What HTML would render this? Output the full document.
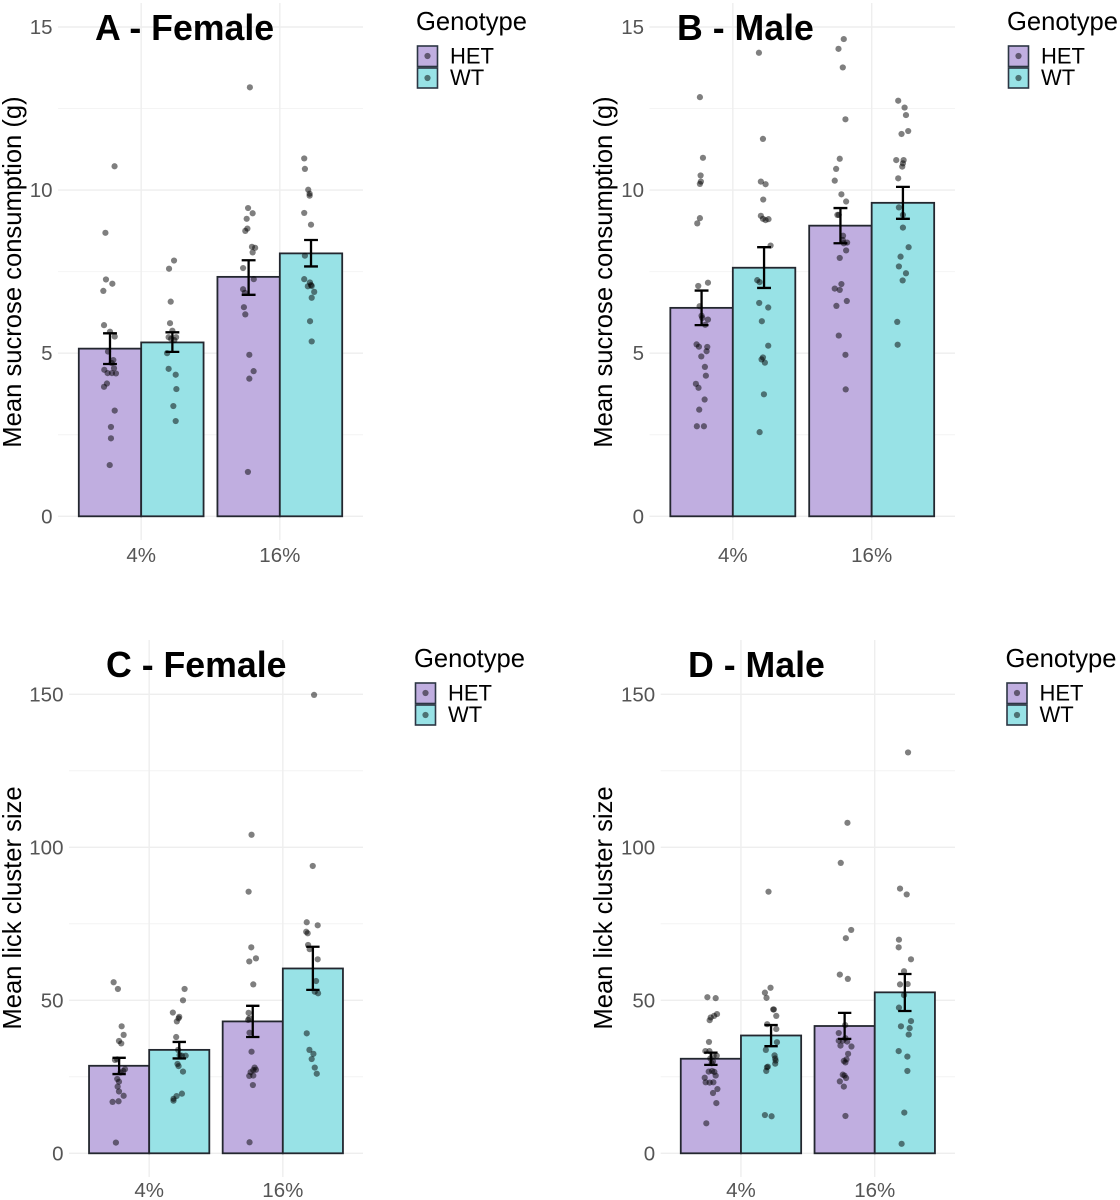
<!DOCTYPE html>
<html lang="en">
<head>
<meta charset="utf-8">
<title>Sucrose consumption and lick cluster size by genotype</title>
<style>
html,body{margin:0;padding:0;background:#fff;width:1120px;height:1200px;overflow:hidden}
svg{display:block;filter:blur(0.3px)}
text{font-family:"Liberation Sans",Arial,sans-serif}
.ptitle{font-size:35.7px;font-weight:700;fill:#000}
.atitle{font-size:25.6px;fill:#000;text-anchor:middle}
.ltitle{font-size:25.6px;fill:#000}
.ltext{font-size:22px;fill:#000}
</style>
</head>
<body>
<svg id="figure" xmlns="http://www.w3.org/2000/svg" width="1120" height="1200" viewBox="0 0 1120 1200">
  <rect width="1120" height="1200" fill="#fff"/>
  <g id="panel-a"></g>
  <g id="panel-b"></g>
  <g id="panel-c"></g>
  <g id="panel-d"></g>

  <text class="ptitle" x="95" y="40">A - Female</text>
  <text class="ptitle" x="677" y="40">B - Male</text>
  <text class="ptitle" x="106" y="677">C - Female</text>
  <text class="ptitle" x="688" y="677">D - Male</text>

  <text class="atitle" transform="translate(21,272) rotate(-90)">Mean sucrose consumption (g)</text>
  <text class="atitle" transform="translate(612,272) rotate(-90)">Mean sucrose consumption (g)</text>
  <text class="atitle" transform="translate(21,908) rotate(-90)">Mean lick cluster size</text>
  <text class="atitle" transform="translate(612,908) rotate(-90)">Mean lick cluster size</text>

  <g transform="translate(416,0)">
    <text class="ltitle" x="0" y="30">Genotype</text>
    <g>
      <rect x="1.5" y="46" width="20" height="20.5" fill="#c0aee0" stroke="#2c3644" stroke-width="1.6"/>
      <circle cx="11.5" cy="56" r="3.1" fill="#000" fill-opacity=".5"/>
      <text class="ltext" x="34" y="63.5">HET</text>
    </g>
    <g>
      <rect x="1.5" y="68" width="20" height="20" fill="#98e2e6" stroke="#2c3644" stroke-width="1.6"/>
      <circle cx="11.5" cy="78" r="3.1" fill="#000" fill-opacity=".5"/>
      <text class="ltext" x="34" y="85">WT</text>
    </g>
  </g>
  <g transform="translate(1007,0)">
    <text class="ltitle" x="0" y="30">Genotype</text>
    <g>
      <rect x="1.5" y="46" width="20" height="20.5" fill="#c0aee0" stroke="#2c3644" stroke-width="1.6"/>
      <circle cx="11.5" cy="56" r="3.1" fill="#000" fill-opacity=".5"/>
      <text class="ltext" x="34" y="63.5">HET</text>
    </g>
    <g>
      <rect x="1.5" y="68" width="20" height="20" fill="#98e2e6" stroke="#2c3644" stroke-width="1.6"/>
      <circle cx="11.5" cy="78" r="3.1" fill="#000" fill-opacity=".5"/>
      <text class="ltext" x="34" y="85">WT</text>
    </g>
  </g>
  <g transform="translate(414,637)">
    <text class="ltitle" x="0" y="30">Genotype</text>
    <g>
      <rect x="1.5" y="46" width="20" height="20.5" fill="#c0aee0" stroke="#2c3644" stroke-width="1.6"/>
      <circle cx="11.5" cy="56" r="3.1" fill="#000" fill-opacity=".5"/>
      <text class="ltext" x="34" y="63.5">HET</text>
    </g>
    <g>
      <rect x="1.5" y="68" width="20" height="20" fill="#98e2e6" stroke="#2c3644" stroke-width="1.6"/>
      <circle cx="11.5" cy="78" r="3.1" fill="#000" fill-opacity=".5"/>
      <text class="ltext" x="34" y="85">WT</text>
    </g>
  </g>
  <g transform="translate(1005.5,637)">
    <text class="ltitle" x="0" y="30">Genotype</text>
    <g>
      <rect x="1.5" y="46" width="20" height="20.5" fill="#c0aee0" stroke="#2c3644" stroke-width="1.6"/>
      <circle cx="11.5" cy="56" r="3.1" fill="#000" fill-opacity=".5"/>
      <text class="ltext" x="34" y="63.5">HET</text>
    </g>
    <g>
      <rect x="1.5" y="68" width="20" height="20" fill="#98e2e6" stroke="#2c3644" stroke-width="1.6"/>
      <circle cx="11.5" cy="78" r="3.1" fill="#000" fill-opacity=".5"/>
      <text class="ltext" x="34" y="85">WT</text>
    </g>
  </g>
</svg>

<script>
// ---- shared categories and tick labels ----
const categories = ['4%', '16%'];
const genotypes = ['HET', 'WT'];
const sucroseTicks = [0, 5, 10, 15];
const lickTicks = [0, 50, 100, 150];

// ---- panel A: bar means and error limits, order HET 4%, WT 4%, HET 16%, WT 16% ----
const aMeans = [5.14, 5.33, 7.34, 8.06];
const aErrLow = [4.67, 5.04, 6.79, 7.66];
const aErrHigh = [5.61, 5.64, 7.85, 8.47];
// points: value, and horizontal jitter as percent of a category band
const aHet4 = [10.73, 8.69, 7.26, 7.13, 6.91, 5.86, 5.66, 5.51, 5.05, 4.79, 4.70, 4.54, 4.49, 4.39, 4.39, 4.38, 4.07, 3.97, 3.24, 2.74, 2.39, 1.57];
const aHet4Jit = [3.3, -3.3, -2.9, 1.7, -4.8, -4.3, 0, 3.4, -1.4, 2.4, 1.2, 2.9, -4.1, -1.7, 1.4, 4.3, -2.2, -4.3, 3.4, 0.7, 0.7, -0.2];
const aWt4 = [7.84, 7.59, 6.58, 5.92, 5.69, 5.49, 5.49, 5.44, 5.40, 5.0, 4.52, 4.34, 3.90, 3.38, 2.92];
const aWt4Jit = [1.2, -2.4, -1.2, -1.7, 0, -2.7, 2.7, -0.9, 1.4, -3.8, -2.7, 2.4, 2.9, 0.7, 2.4];
const aHet16 = [13.15, 9.45, 9.29, 9.12, 8.82, 8.75, 8.26, 8.23, 8.09, 7.61, 7.27, 6.96, 6.85, 6.41, 6.19, 4.95, 4.45, 4.22, 1.36];
const aHet16Jit = [0.9, -0.4, 2.9, -1.4, -0.9, -2.4, 2.4, 4.7, 2.9, -4, 3.7, -4, -2.7, -3.4, -2.4, 0.5, 3.6, 0.5, -0.5];
const aWt16 = [10.97, 10.65, 10.01, 9.89, 9.83, 9.30, 8.94, 7.99, 7.27, 7.17, 7.09, 7.05, 7.06, 6.88, 6.70, 5.98, 5.36];
const aWt16Jit = [-4.9, -4.4, -2, -1, -1, -4.9, 0, -4.4, -4.9, -0.8, 0, -2.3, 0.5, 2.3, 0.5, -0.7, 0.5];

// ---- panel B ----
const bMeans = [6.39, 7.62, 8.91, 9.61];
const bErrLow = [5.86, 7.0, 8.37, 9.12];
const bErrHigh = [6.92, 8.25, 9.45, 10.10];
const bHet4 = [12.85, 10.99, 10.45, 10.26, 10.19, 9.14, 8.98, 7.16, 7.06, 6.44, 6.15, 6.08, 6.03, 5.87, 5.27, 5.20, 5.19, 5.06, 4.90, 4.58, 4.31, 4.06, 3.94, 3.58, 3.27, 2.76, 2.76];
const bHet4Jit = [-1.2, 1, -0.7, -0.5, -1.2, -1.2, -3.1, 4.6, -2.4, -1.4, 0, 0.5, 4.6, 2.6, -3.6, -1.9, 4.1, 3.6, -0.2, 2.4, 3.1, -4.1, -2.2, 2.2, -1.7, -3.4, 1.7];
const bWt4 = [14.21, 11.57, 10.26, 10.18, 9.71, 9.21, 9.12, 9.08, 9.11, 8.30, 7.24, 7.18, 6.54, 6.40, 5.98, 5.23, 4.87, 4.81, 4.71, 3.74, 2.58];
const bWt4Jit = [-3.7, -0.8, -2.3, 1.1, -0.6, -2.3, -0.8, 1.1, 3.2, 4.7, -4.9, -3.2, -3.5, 3, -1.6, 3, -0.8, -1.8, 0.6, -0.1, -3.2];
const bHet16 = [14.63, 14.33, 13.76, 12.17, 10.96, 10.65, 10.29, 9.87, 9.65, 9.24, 9.24, 8.60, 8.47, 8.39, 8.37, 8.15, 7.92, 7.12, 6.98, 6.94, 6.60, 6.45, 5.54, 4.95, 3.89];
const bHet16Jit = [2.4, -1.4, 1.7, 3.6, -0.5, -3.1, -4.1, 0.7, 4.1, -2.2, -1.2, 1.9, 1.7, 4.8, 2.4, 4.1, -0.5, 0.7, -4.1, -0.5, 4.6, -2.9, -1.2, 3.6, 3.8];
const bWt16 = [12.74, 12.53, 12.30, 11.81, 11.72, 10.92, 10.92, 10.82, 10.72, 10.36, 9.47, 9.24, 8.85, 8.25, 7.96, 7.66, 7.45, 7.23, 5.96, 5.26];
const bWt16Jit = [-3.4, 1.2, 2.2, 3.8, -1, -4.8, 0.5, 0, -0.5, -3.4, -2.9, 0, 0, 4.1, -1.7, -2.9, 2.2, -0.2, -4.1, -3.8];

// ---- panel C ----
const cMeans = [28.6, 33.8, 43.1, 60.4];
const cErrLow = [25.9, 31.0, 38.0, 53.4];
const cErrHigh = [31.2, 36.4, 48.2, 67.5];
const cHet4 = [55.9, 53.7, 41.5, 38.7, 36.7, 35.9, 30.5, 30.7, 27.5, 26.9, 26.4, 24.3, 23.4, 21.8, 20.2, 18.8, 16.8, 17.0, 3.5];
const cHet4Jit = [-4.1, -0.9, 1.9, 3.4, -0.1, 1.6, -3.1, -1.4, 4.4, 3.1, 1.1, -1.4, -0.1, -1.1, -0.1, 3.4, -4.9, -0.4, -2.4];
const cWt4 = [53.7, 50, 46, 44.6, 44.1, 43.1, 38, 33.8, 32.1, 31.9, 31.9, 29.2, 28.5, 26.7, 19.5, 18.7, 17.8, 17.2];
const cWt4Jit = [4, 2.8, -4.8, 0, -0.5, -1.8, -2.3, -0.8, 0.3, 2, 4.8, -1.3, -0.5, 2.8, 2, -2, -4.3, -4.3];
const cHet16 = [104.1, 85.5, 67.3, 62.7, 63.7, 55.2, 45.9, 44.1, 43.6, 39.4, 33.2, 28, 27.2, 27.3, 26.5, 25.3, 25.4, 22.3, 3.6];
const cHet16Jit = [-0.9, -3.1, -1.1, -2.6, 2.4, 0.4, -3.1, -2.6, -3.4, -2.4, -0.9, 1.4, 0.4, 2.4, -1.6, -2.6, 0.4, 0.1, -2.4];
const cWt16 = [149.8, 93.9, 75.5, 74.5, 72.4, 71.9, 68.1, 66.7, 63.4, 56.3, 52.8, 52.3, 39.2, 33.8, 32.5, 30.8, 28, 26];
const cWt16Jit = [0.9, -0.1, -4.6, 3.6, -5, -3.9, -3.6, -2.4, 3.6, 2.4, 1.4, 3.9, -4.6, -2.6, 0.4, -0.9, 1.4, 2.9];

// ---- panel D ----
const dMeans = [30.9, 38.5, 41.6, 52.6];
const dErrLow = [28.9, 35.0, 37.4, 46.5];
const dErrHigh = [32.9, 41.9, 45.9, 58.6];
const dHet4 = [51, 50.7, 45.5, 44.9, 44.4, 43.5, 36.4, 33.4, 33.4, 31.9, 31.9, 31, 30, 29.4, 26.7, 26.9, 26.6, 25.4, 24.7, 23.2, 23.1, 23.2, 21, 19.7, 16.4, 9.8];
const dHet4Jit = [-2.6, 3.6, 4.6, 2.4, -0.1, -0.9, -1.4, -4.1, -1.1, 4.4, 2.1, -0.4, 1.6, 0.6, -1.6, 0.9, 2.6, 3.6, -4.6, -3.9, -0.9, 1.9, 4.9, 1.6, 4.1, -3.4];
const dWt4 = [85.5, 54.1, 52.5, 50.8, 47, 47, 44.9, 42.2, 40.6, 36.3, 33.8, 32, 31, 30.3, 29.3, 28.3, 28.1, 26.9, 12.5, 12.1];
const dWt4Jit = [-1.9, -0.4, -4.6, -3.4, 1.6, 2.1, 3.9, -2.9, 3.9, 4.4, -3.9, 2.6, 3.1, 3.4, 3.1, -2.4, -3.1, -3.6, -4.6, 0.4];
const dHet16 = [108, 94.9, 73, 70.3, 58.4, 57, 41.9, 39.3, 37.6, 36.8, 36.8, 36.5, 35.2, 34.9, 32.5, 30.7, 30.2, 29.7, 25.7, 25.4, 24.6, 23.5, 21.8, 12.2];
const dHet16Jit = [2.1, -2.9, 4.9, 0.9, -3.6, 2.4, 0.4, -4.4, 0.6, -4.4, -1.4, 1.9, -3.1, 5.1, 2.6, 1.4, -0.6, 0.6, -1.4, -0.1, 1.1, -3.6, -0.6, 0.6];
const dWt16 = [131, 86.5, 84.6, 69.8, 67.3, 63.4, 59.5, 55.2, 55.3, 51.7, 47.6, 43.2, 41.5, 40.9, 38.8, 33.4, 31.6, 26.9, 13.3, 3.1];
const dWt16Jit = [2.4, -3.6, 1.4, -4.4, -4.6, 4.6, -0.6, -3.6, 2.1, -0.6, -4.4, 4.6, -2.9, 3.6, 2.9, -4.6, 1.9, 1.9, -0.4, -2.4];

const SVGNS = 'http://www.w3.org/2000/svg';
const fills = {HET: '#c0aee0', WT: '#98e2e6'};

function make(parent, tag, attrs, text) {
  const el = document.createElementNS(SVGNS, tag);
  for (const k in attrs) el.setAttribute(k, attrs[k]);
  if (text !== undefined) el.textContent = text;
  parent.appendChild(el);
  return el;
}

function drawPanel(cfg) {
  const root = document.getElementById(cfg.id);
  const band = (cfg.right - cfg.left) / 2.2;
  const xCat = i => cfg.left + (0.6 + i) * band;
  const xGroup = (i, g) => xCat(i) + (g === 0 ? -0.225 : 0.225) * band;
  const unit = (cfg.yZero - cfg.yTopTick) / cfg.ticks[cfg.ticks.length - 1];
  const y = v => cfg.yZero - v * unit;

  // minor horizontal grid, at midpoints of the tick values
  for (let i = 0; i < cfg.ticks.length - 1; i++) {
    const m = (cfg.ticks[i] + cfg.ticks[i + 1]) / 2;
    const el = make(root, 'line', {x1: cfg.left, x2: cfg.right, y1: y(m), y2: y(m), stroke: '#f4f4f4', 'stroke-width': 1});
    
    
  }
  // major horizontal grid and y tick labels
  cfg.ticks.forEach(t => {
    const el = make(root, 'line', {x1: cfg.left, x2: cfg.right, y1: y(t), y2: y(t), stroke: '#eeeeee', 'stroke-width': 1.4});
    
    
    const lab = make(root, 'text', {x: cfg.left - 5.5, y: y(t) + 7, 'text-anchor': 'end', 'font-size': 20.5, fill: '#555555'}, String(t));
    
    
  });
  // vertical grid and x tick labels
  categories.forEach((c, i) => {
    const el = make(root, 'line', {x1: xCat(i), x2: xCat(i), y1: cfg.panelTop, y2: cfg.panelBottom, stroke: '#eeeeee', 'stroke-width': 1.4});
    
    
    const lab = make(root, 'text', {x: xCat(i), y: cfg.xLabelY, 'text-anchor': 'middle', 'font-size': 20.5, fill: '#555555'}, c);
    
    
  });

  // bars
  categories.forEach((c, i) => {
    genotypes.forEach((g, j) => {
      const k = i * 2 + j;
      const cx = xGroup(i, j);
      const w = 0.45 * band;
      const bar = make(root, 'rect', {x: cx - w / 2, y: y(cfg.means[k]), width: w, height: cfg.yZero - y(cfg.means[k]), fill: fills[g], stroke: '#23272f', 'stroke-width': 1.8});
      
      
    });
  });

  // jittered points
  categories.forEach((c, i) => {
    genotypes.forEach((g, j) => {
      const k = i * 2 + j;
      const vals = cfg.points[k];
      const jits = cfg.jitter[k];
      vals.forEach((v, n) => {
        const pt = make(root, 'circle', {cx: xGroup(i, j) + jits[n] / 100 * band, cy: y(v), r: 3.1, fill: '#000', 'fill-opacity': 0.5});
        
        
      });
    });
  });

  // error bars
  categories.forEach((c, i) => {
    genotypes.forEach((g, j) => {
      const k = i * 2 + j;
      const cx = xGroup(i, j);
      const cap = 0.05 * band;
      const eg = make(root, 'path', {
        d: 'M' + (cx - cap) + ' ' + y(cfg.errHigh[k]) + 'H' + (cx + cap) +
           'M' + cx + ' ' + y(cfg.errHigh[k]) + 'V' + y(cfg.errLow[k]) +
           'M' + (cx - cap) + ' ' + y(cfg.errLow[k]) + 'H' + (cx + cap),
        fill: 'none', stroke: '#000', 'stroke-width': 2.3
      });
      
      
    });
  });
}

drawPanel({id: 'panel-a', left: 58, right: 363, yZero: 516.3, yTopTick: 27, panelTop: 3, panelBottom: 540, xLabelY: 562, ticks: sucroseTicks,
  means: aMeans, errLow: aErrLow, errHigh: aErrHigh,
  points: [aHet4, aWt4, aHet16, aWt16], jitter: [aHet4Jit, aWt4Jit, aHet16Jit, aWt16Jit]});
drawPanel({id: 'panel-b', left: 649.5, right: 955, yZero: 516.3, yTopTick: 27, panelTop: 3, panelBottom: 540, xLabelY: 562, ticks: sucroseTicks,
  means: bMeans, errLow: bErrLow, errHigh: bErrHigh,
  points: [bHet4, bWt4, bHet16, bWt16], jitter: [bHet4Jit, bWt4Jit, bHet16Jit, bWt16Jit]});
drawPanel({id: 'panel-c', left: 69, right: 363, yZero: 1153.3, yTopTick: 694.3, panelTop: 640, panelBottom: 1177, xLabelY: 1197, ticks: lickTicks,
  means: cMeans, errLow: cErrLow, errHigh: cErrHigh,
  points: [cHet4, cWt4, cHet16, cWt16], jitter: [cHet4Jit, cWt4Jit, cHet16Jit, cWt16Jit]});
drawPanel({id: 'panel-d', left: 660.7, right: 955, yZero: 1153.3, yTopTick: 694.3, panelTop: 640, panelBottom: 1177, xLabelY: 1197, ticks: lickTicks,
  means: dMeans, errLow: dErrLow, errHigh: dErrHigh,
  points: [dHet4, dWt4, dHet16, dWt16], jitter: [dHet4Jit, dWt4Jit, dHet16Jit, dWt16Jit]});
</script>
</body>
</html>
